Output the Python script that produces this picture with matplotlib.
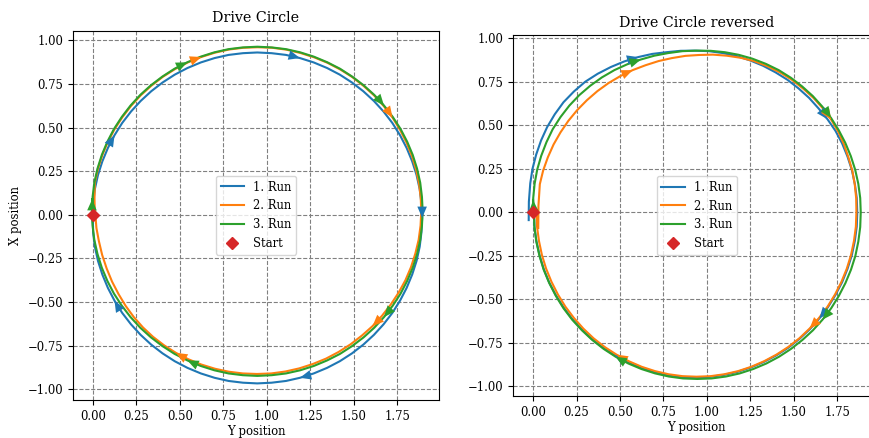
import numpy as np
import matplotlib
matplotlib.use('Agg')
import matplotlib.pyplot as plt

plt.rcParams['font.family'] = 'serif'
plt.rcParams['font.size'] = 8.4

# Drive Circle: horizontal = Y position, vertical = X position
circle_run1_y = [0.000, 0.002, 0.012, 0.030, 0.055, 0.087, 0.125, 0.169, 0.220, 0.275, 0.336, 0.401, 0.471,
                 0.544, 0.621, 0.700, 0.780, 0.863, 0.945, 1.027, 1.110, 1.190, 1.269, 1.346, 1.419, 1.489,
                 1.554, 1.615, 1.670, 1.721, 1.765, 1.803, 1.835, 1.860, 1.878, 1.888, 1.892, 1.888, 1.878,
                 1.860, 1.835, 1.803, 1.765, 1.721, 1.670, 1.615, 1.554, 1.489, 1.419, 1.346, 1.269, 1.190,
                 1.110, 1.027, 0.945, 0.863, 0.780, 0.700, 0.621, 0.544, 0.471, 0.401, 0.336, 0.275, 0.220,
                 0.169, 0.125, 0.087, 0.055, 0.030, 0.012, 0.002, 0.000]
circle_run1_x = [0.000, 0.064, 0.147, 0.228, 0.306, 0.383, 0.456, 0.526, 0.592, 0.652, 0.708, 0.758, 0.803,
                 0.841, 0.873, 0.898, 0.916, 0.926, 0.930, 0.926, 0.916, 0.898, 0.873, 0.841, 0.803, 0.758,
                 0.708, 0.652, 0.592, 0.526, 0.456, 0.383, 0.306, 0.228, 0.147, 0.064, -0.018, -0.100, -0.183,
                 -0.264, -0.342, -0.419, -0.492, -0.562, -0.628, -0.688, -0.744, -0.794, -0.839, -0.877, -0.909,
                 -0.934, -0.952, -0.962, -0.966, -0.962, -0.952, -0.934, -0.909, -0.877, -0.839, -0.794, -0.744,
                 -0.688, -0.628, -0.562, -0.492, -0.419, -0.342, -0.264, -0.183, -0.100, -0.010]
circle_run2_y = [0.012, 0.010, 0.012, 0.030, 0.055, 0.087, 0.125, 0.170, 0.220, 0.276, 0.337, 0.403, 0.473,
                 0.546, 0.623, 0.702, 0.783, 0.865, 0.948, 1.031, 1.113, 1.193, 1.272, 1.348, 1.421, 1.491,
                 1.556, 1.617, 1.672, 1.722, 1.765, 1.802, 1.833, 1.857, 1.874, 1.884, 1.887, 1.883, 1.872,
                 1.853, 1.828, 1.796, 1.757, 1.712, 1.662, 1.607, 1.546, 1.481, 1.412, 1.340, 1.264, 1.186,
                 1.106, 1.025, 0.943, 0.862, 0.781, 0.702, 0.624, 0.550, 0.478, 0.410, 0.346, 0.288, 0.235,
                 0.189, 0.148, 0.111, 0.080, 0.054, 0.035, 0.021, 0.015]
circle_run2_x = [0.000, 0.092, 0.184, 0.264, 0.342, 0.418, 0.490, 0.559, 0.624, 0.685, 0.740, 0.791, 0.835,
                 0.873, 0.904, 0.929, 0.947, 0.957, 0.960, 0.957, 0.946, 0.927, 0.902, 0.871, 0.833, 0.789,
                 0.738, 0.683, 0.622, 0.557, 0.487, 0.414, 0.338, 0.260, 0.180, 0.099, 0.018, -0.062, -0.143,
                 -0.222, -0.300, -0.375, -0.446, -0.514, -0.578, -0.638, -0.692, -0.742, -0.786, -0.824, -0.855,
                 -0.880, -0.898, -0.909, -0.912, -0.909, -0.899, -0.882, -0.858, -0.828, -0.791, -0.748, -0.699,
                 -0.645, -0.585, -0.522, -0.454, -0.383, -0.308, -0.230, -0.150, -0.075, 0.000]
circle_run3_y = [0.000, -0.001, 0.009, 0.027, 0.052, 0.084, 0.122, 0.167, 0.217, 0.273, 0.334, 0.400, 0.470,
                 0.543, 0.620, 0.699, 0.780, 0.862, 0.945, 1.028, 1.110, 1.191, 1.270, 1.347, 1.420, 1.490,
                 1.556, 1.617, 1.673, 1.723, 1.768, 1.806, 1.838, 1.863, 1.881, 1.891, 1.895, 1.891, 1.881,
                 1.863, 1.838, 1.806, 1.768, 1.723, 1.673, 1.617, 1.556, 1.490, 1.420, 1.347, 1.270, 1.191,
                 1.110, 1.028, 0.945, 0.862, 0.780, 0.699, 0.620, 0.543, 0.470, 0.400, 0.334, 0.273, 0.217,
                 0.167, 0.122, 0.084, 0.052, 0.027, 0.009, -0.001, -0.005, -0.003]
circle_run3_x = [0.000, 0.102, 0.184, 0.264, 0.343, 0.419, 0.492, 0.561, 0.626, 0.687, 0.742, 0.792, 0.837,
                 0.874, 0.906, 0.931, 0.949, 0.959, 0.963, 0.959, 0.949, 0.931, 0.906, 0.874, 0.837, 0.792,
                 0.742, 0.687, 0.626, 0.561, 0.492, 0.419, 0.343, 0.264, 0.184, 0.102, 0.020, -0.062, -0.144,
                 -0.224, -0.303, -0.379, -0.452, -0.521, -0.586, -0.647, -0.702, -0.752, -0.797, -0.834, -0.866,
                 -0.891, -0.909, -0.919, -0.923, -0.919, -0.909, -0.891, -0.866, -0.834, -0.797, -0.752, -0.702,
                 -0.647, -0.586, -0.521, -0.452, -0.379, -0.303, -0.224, -0.144, -0.062, 0.000, 0.090]

# Drive Circle reversed
reversed_run1_y = [-0.025, -0.024, -0.016, -0.003, 0.018, 0.046, 0.081, 0.125, 0.175, 0.235, 0.300, 0.372,
                   0.448, 0.525, 0.605, 0.685, 0.767, 0.849, 0.930, 1.011, 1.092, 1.171, 1.248, 1.323, 1.395,
                   1.464, 1.528, 1.588, 1.642, 1.694, 1.740, 1.778, 1.809, 1.834, 1.851, 1.862, 1.865, 1.862,
                   1.851, 1.834, 1.809, 1.778, 1.740, 1.697, 1.647, 1.593, 1.533, 1.469, 1.400, 1.328, 1.253,
                   1.176, 1.097, 1.016, 0.935, 0.854, 0.773, 0.694, 0.617, 0.542, 0.470, 0.402, 0.337, 0.278,
                   0.223, 0.174, 0.130, 0.092, 0.061, 0.037, 0.019, 0.008, 0.005]
reversed_run1_x = [-0.045, 0.061, 0.167, 0.251, 0.332, 0.413, 0.490, 0.564, 0.633, 0.695, 0.751, 0.797, 0.836,
                   0.868, 0.893, 0.911, 0.921, 0.929, 0.930, 0.927, 0.916, 0.899, 0.874, 0.843, 0.805, 0.762,
                   0.712, 0.658, 0.598, 0.535, 0.468, 0.396, 0.320, 0.243, 0.163, 0.082, 0.000, -0.083, -0.165,
                   -0.246, -0.325, -0.402, -0.475, -0.545, -0.611, -0.672, -0.728, -0.779, -0.823, -0.861, -0.893,
                   -0.918, -0.936, -0.947, -0.950, -0.947, -0.936, -0.918, -0.893, -0.861, -0.823, -0.779, -0.728,
                   -0.672, -0.611, -0.545, -0.475, -0.402, -0.325, -0.246, -0.165, -0.083, 0.000]
reversed_run2_y = [0.030, 0.031, 0.039, 0.058, 0.085, 0.118, 0.158, 0.203, 0.254, 0.310, 0.370, 0.435, 0.503,
                   0.573, 0.647, 0.722, 0.798, 0.877, 0.955, 1.035, 1.114, 1.194, 1.271, 1.347, 1.420, 1.489,
                   1.553, 1.613, 1.667, 1.715, 1.756, 1.789, 1.815, 1.837, 1.851, 1.859, 1.860, 1.857, 1.846,
                   1.829, 1.805, 1.774, 1.737, 1.694, 1.645, 1.591, 1.532, 1.468, 1.400, 1.329, 1.255, 1.179,
                   1.100, 1.020, 0.940, 0.860, 0.780, 0.702, 0.625, 0.551, 0.480, 0.412, 0.348, 0.289, 0.235,
                   0.186, 0.143, 0.106, 0.075, 0.051, 0.034, 0.023, 0.020]
reversed_run2_x = [-0.090, 0.036, 0.162, 0.240, 0.316, 0.390, 0.460, 0.526, 0.588, 0.645, 0.697, 0.744, 0.784,
                   0.818, 0.846, 0.870, 0.887, 0.900, 0.905, 0.907, 0.901, 0.889, 0.870, 0.841, 0.805, 0.762,
                   0.712, 0.658, 0.598, 0.533, 0.463, 0.390, 0.313, 0.237, 0.158, 0.079, 0.000, -0.083, -0.165,
                   -0.246, -0.324, -0.400, -0.473, -0.543, -0.608, -0.669, -0.725, -0.775, -0.819, -0.857, -0.889,
                   -0.914, -0.932, -0.943, -0.946, -0.943, -0.932, -0.914, -0.889, -0.857, -0.819, -0.775, -0.725,
                   -0.669, -0.608, -0.543, -0.473, -0.400, -0.324, -0.246, -0.165, -0.083, 0.000]
reversed_run3_y = [0.000, 0.001, 0.009, 0.024, 0.047, 0.077, 0.113, 0.158, 0.209, 0.266, 0.329, 0.396, 0.468,
                   0.543, 0.620, 0.698, 0.778, 0.859, 0.940, 1.022, 1.103, 1.183, 1.261, 1.339, 1.413, 1.483,
                   1.548, 1.609, 1.664, 1.714, 1.758, 1.796, 1.828, 1.853, 1.871, 1.882, 1.885, 1.882, 1.871,
                   1.854, 1.829, 1.797, 1.759, 1.715, 1.665, 1.610, 1.549, 1.484, 1.415, 1.342, 1.266, 1.189,
                   1.109, 1.027, 0.945, 0.863, 0.781, 0.702, 0.624, 0.548, 0.475, 0.406, 0.341, 0.281, 0.225,
                   0.175, 0.131, 0.093, 0.061, 0.037, 0.019, 0.008, 0.005, 0.000]
reversed_run3_x = [0.000, 0.082, 0.164, 0.246, 0.325, 0.403, 0.478, 0.548, 0.614, 0.674, 0.728, 0.776, 0.818,
                   0.852, 0.879, 0.901, 0.916, 0.927, 0.930, 0.929, 0.921, 0.906, 0.884, 0.854, 0.818, 0.774,
                   0.724, 0.669, 0.608, 0.543, 0.473, 0.400, 0.323, 0.245, 0.164, 0.082, 0.000, -0.085, -0.169,
                   -0.251, -0.330, -0.407, -0.481, -0.552, -0.618, -0.679, -0.735, -0.786, -0.831, -0.870, -0.902,
                   -0.927, -0.945, -0.956, -0.959, -0.956, -0.945, -0.927, -0.902, -0.870, -0.831, -0.786, -0.735,
                   -0.679, -0.618, -0.552, -0.481, -0.407, -0.330, -0.251, -0.169, -0.086, -0.003, 0.070]

# sample index where each direction arrow sits
circle_arrows = [[6, 21, 36, 51, 66], [14, 29, 45, 60], [13, 28, 44, 59, 73]]
reversed_arrows = [[14, 29, 44, 60], [13, 29, 45, 60], [14, 29, 44, 60, 73]]

run_labels = ['1. Run', '2. Run', '3. Run']
start_y = [0.0]
start_x = [0.0]


def add_arrows(ax, ys, xs, idx, color):
    for k in idx:
        k0 = k - 1
        k1 = min(k + 1, len(ys) - 1)
        dx, dy = ys[k1] - ys[k0], xs[k1] - xs[k0]
        n = np.hypot(dx, dy)
        L = 0.065
        ux, uy = dx / n, dy / n
        ax.arrow(ys[k] - ux * L, xs[k] - uy * L, ux * L, uy * L, shape='full',
                 width=0, head_width=0.055, head_length=L, length_includes_head=True,
                 color=color, lw=0, zorder=3)


def draw_panel(ax, runs, arrows, title):
    colors = ['tab:blue', 'tab:orange', 'tab:green']
    for (ys, xs), idx, c, lab in zip(runs, arrows, colors, run_labels):
        ax.plot(ys, xs, color=c, lw=1.5, label=lab)
    for (ys, xs), idx, c in zip(runs, arrows, colors):
        add_arrows(ax, ys, xs, idx, c)
    ax.plot(start_y, start_x, 'D', color='tab:red', markersize=6, label='Start', linestyle='none', zorder=4)
    ax.set_title(title, fontsize=10.3)
    ax.set_xlabel('Y position', labelpad=2)
    ax.set_xticks(np.arange(0, 1.76, 0.25))
    ax.set_yticks(np.arange(-1, 1.01, 0.25))
    ax.grid(True, linestyle='--', color='gray', linewidth=0.8)
    ax.legend(loc='center', fontsize=8.4)


fig = plt.figure(figsize=(8.69, 4.38), dpi=100)
ax1 = fig.add_axes([0.0837, 0.0868, 0.4219, 0.8432])
ax2 = fig.add_axes([0.590, 0.0959, 0.4235, 0.8242])

draw_panel(ax1, [(circle_run1_y, circle_run1_x), (circle_run2_y, circle_run2_x), (circle_run3_y, circle_run3_x)],
           circle_arrows, 'Drive Circle')
ax1.set_ylabel('X position')
ax1.set_xlim(-0.115, 1.991)
ax1.set_ylim(-1.061, 1.055)

draw_panel(ax2, [(reversed_run1_y, reversed_run1_x), (reversed_run2_y, reversed_run2_x),
                 (reversed_run3_y, reversed_run3_x)], reversed_arrows, 'Drive Circle reversed')
ax2.set_xlim(-0.117, 2.0)
ax2.set_ylim(-1.057, 1.02)

fig.savefig('out.png', dpi=100)
